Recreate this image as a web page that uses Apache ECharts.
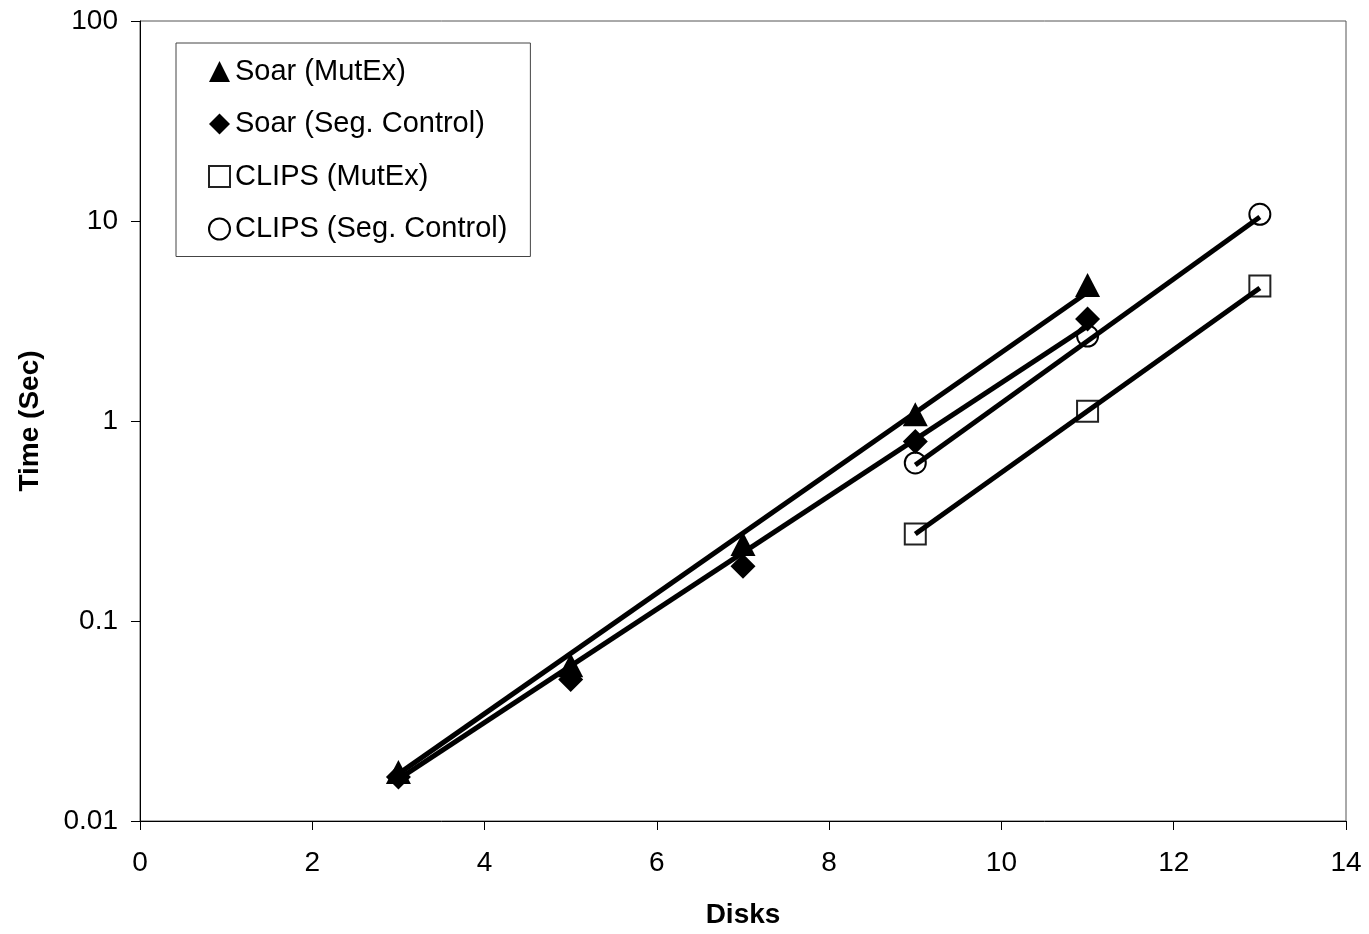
<!DOCTYPE html>
<html>
<head>
<meta charset="utf-8">
<script src="https://cdn.jsdelivr.net/npm/echarts@6/dist/echarts.min.js"></script>
<style>
html,body{margin:0;padding:0;background:#fff;}
#chart{width:1369px;height:934px;}
</style>
</head>
<body>
<div id="chart"></div>
<script>
// Data
const soarX = [3, 5, 7, 9, 11];
const soarMutEx = [0.0176, 0.06, 0.243, 1.08, 4.79];
const soarSeg = [0.0166, 0.051, 0.188, 0.79, 3.24];
const clipsX = [9, 11, 13];
const clipsMutEx = [0.272, 1.12, 4.73];
const clipsSeg = [0.617, 2.66, 10.8];

// Trend lines (end points)
const soarTrendX = [3, 11];
const soarMutExTrend = [0.0172, 4.4];
const soarSegTrend = [0.0162, 2.98];
const clipsTrendX = [9, 13];
const clipsMutExTrend = [0.272, 4.62];
const clipsSegTrend = [0.603, 10.47];

const xTicks = [0, 2, 4, 6, 8, 10, 12, 14];
const yTicks = ['0.01', '0.1', '1', '10', '100'];

const FONT = '"Liberation Sans", Arial, sans-serif';
const pairs = (xs, ys) => xs.map((x, i) => [x, ys[i]]);

const lineStyleCommon = { color: '#000', width: 5 };
function trend(name, xs, ys) {
  return {
    name: name, type: 'line', data: pairs(xs, ys), symbol: 'none',
    lineStyle: lineStyleCommon, z: 5, silent: true, legendHoverLink: false
  };
}

const chart = echarts.init(document.getElementById('chart'), null, { renderer: 'canvas' });
chart.setOption({
  animation: false,
  backgroundColor: '#fff',
  grid: {
    left: 140, right: 23, top: 21, bottom: 111,
    show: true, borderColor: '#555', borderWidth: 1, backgroundColor: 'transparent'
  },
  legend: {
    orient: 'vertical',
    left: 176, top: 43,
    padding: [14, 23, 13, 32],
    borderColor: '#444', borderWidth: 1,
    backgroundColor: '#fff',
    itemWidth: 21, itemHeight: 21,
    itemGap: 23.5,
    textStyle: { fontFamily: FONT, fontSize: 29, color: '#000', lineHeight: 29 },
    data: ['Soar (MutEx)', 'Soar (Seg. Control)', 'CLIPS (MutEx)', 'CLIPS (Seg. Control)'],
    selectedMode: false
  },
  xAxis: {
    type: 'value', min: 0, max: 14, interval: 2,
    name: 'Disks', nameLocation: 'middle', nameGap: 80,
    nameTextStyle: { fontFamily: FONT, fontSize: 28, fontWeight: 'bold', color: '#000' },
    axisLine: { show: true, lineStyle: { color: '#000', width: 1 } },
    axisTick: { show: true, inside: false, length: 9, lineStyle: { color: '#000' } },
    axisLabel: {
      fontFamily: FONT, fontSize: 28, color: '#000', margin: 28,
      formatter: v => xTicks.includes(v) ? String(v) : ''
    },
    splitLine: { show: false }
  },
  yAxis: {
    type: 'log', logBase: 10, min: 0.01, max: 100,
    name: 'Time (Sec)', nameLocation: 'middle', nameGap: 96, nameRotate: 90,
    nameTextStyle: { fontFamily: FONT, fontSize: 28, fontWeight: 'bold', color: '#000' },
    axisLine: { show: true, lineStyle: { color: '#000', width: 1 } },
    axisTick: { show: true, inside: false, length: 9, lineStyle: { color: '#000' } },
    axisLabel: {
      fontFamily: FONT, fontSize: 28, color: '#000', margin: 22,
      formatter: v => {
        const s = yTicks.find(t => Math.abs(parseFloat(t) - v) / v < 1e-6);
        return s || '';
      }
    },
    splitLine: { show: false },
    minorTick: { show: false }
  },
  series: [
    trend('t1', soarTrendX, soarMutExTrend),
    trend('t2', soarTrendX, soarSegTrend),
    trend('t3', clipsTrendX, clipsMutExTrend),
    trend('t4', clipsTrendX, clipsSegTrend),
    {
      name: 'Soar (MutEx)', type: 'scatter', data: pairs(soarX, soarMutEx),
      symbol: 'triangle', symbolSize: [25, 24], z: 3,
      itemStyle: { color: '#000', opacity: 1 }
    },
    {
      name: 'Soar (Seg. Control)', type: 'scatter', data: pairs(soarX, soarSeg),
      symbol: 'diamond', symbolSize: [25, 25], z: 4,
      itemStyle: { color: '#000', opacity: 1 }
    },
    {
      name: 'CLIPS (MutEx)', type: 'scatter', data: pairs(clipsX, clipsMutEx),
      symbol: 'rect', symbolSize: [21, 21], z: 3,
      itemStyle: { color: 'rgba(255,255,255,0)', borderColor: '#222', borderWidth: 2, opacity: 1 }
    },
    {
      name: 'CLIPS (Seg. Control)', type: 'scatter', data: pairs(clipsX, clipsSeg),
      symbol: 'circle', symbolSize: [21, 21], z: 3,
      itemStyle: { color: 'rgba(255,255,255,0)', borderColor: '#000', borderWidth: 2, opacity: 1 }
    }
  ]
});
</script>
</body>
</html>
